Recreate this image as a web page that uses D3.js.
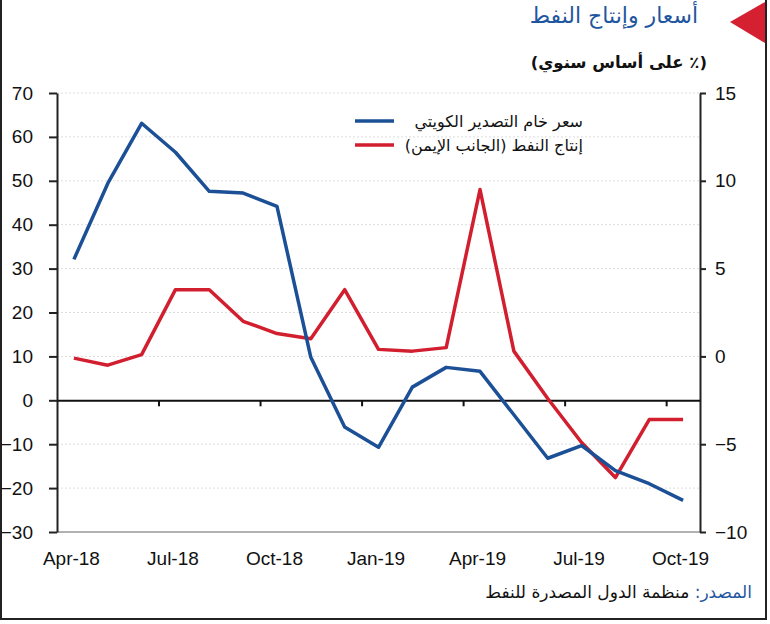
<!DOCTYPE html>
<html>
<head>
<meta charset="utf-8">
<script src="https://cdn.jsdelivr.net/npm/d3@7/dist/d3.min.js"></script>
<style>
  body { margin: 0; background: #fff; }
  text { font-family: "Liberation Sans", Arial, "DejaVu Sans", sans-serif; }
  .ar { font-family: "DejaVu Sans", sans-serif; }
</style>
</head>
<body>
<svg id="chart" width="770" height="624"></svg>
<script>
// monthly data, Apr-18 .. Oct-19
var months = ["Apr-18","May-18","Jun-18","Jul-18","Aug-18","Sep-18","Oct-18","Nov-18","Dec-18",
  "Jan-19","Feb-19","Mar-19","Apr-19","May-19","Jun-19","Jul-19","Aug-19","Sep-19","Oct-19"];
var kuwaitPrice = [32.1, 49.4, 63.1, 56.5, 47.6, 47.2, 44.2, 9.8, -6.1, -10.7, 3.0, 7.5, 6.6, -3.3, -13.2, -10.3, -16.0, -19.0, -22.8];
var oilProduction = [-0.1, -0.5, 0.1, 3.8, 3.8, 2.0, 1.3, 1.0, 3.8, 0.4, 0.3, 0.5, 9.5, 0.3, -2.4, -4.9, -6.9, -3.6, -3.6];

var leftTicks = [-30, -20, -10, 0, 10, 20, 30, 40, 50, 60, 70];
var rightTicks = [-10, -5, 0, 5, 10, 15];
var xLabels = ["Apr-18", "Jul-18", "Oct-18", "Jan-19", "Apr-19", "Jul-19", "Oct-19"];
var xTickIdx = [3, 6, 9, 12, 15, 18];

var seriesNames = ["سعر خام التصدير الكويتي", "إنتاج النفط (الجانب الإيمن)"];
var blue = "#1c5096", red = "#d21f2f";

var svg = d3.select("#chart");
var plotL = 57, plotR = 700, plotT = 93, plotB = 532;

var x = d3.scalePoint().domain(months).range([plotL, plotR]).padding(0.5);
var xIdx = d3.scaleLinear().domain([0, months.length]).range([plotL, plotR]);
var yL = d3.scaleLinear().domain([-30, 70]).range([plotB, plotT]);
var yR = d3.scaleLinear().domain([-10, 15]).range([plotB, plotT]);

// frame
svg.append("path").attr("d", "M1,0V619H766V0").attr("fill", "none").attr("stroke", "#222").attr("stroke-width", 2);

// title & triangle
svg.append("polygon").attr("points", "730,22 765,2 765,43").attr("fill", "#d42030");
svg.append("text").attr("class", "ar").attr("x", 698).attr("y", 23).attr("text-anchor", "start")
  .attr("font-size", 22).attr("fill", "#1f56a0").attr("direction", "rtl").text("أسعار وإنتاج النفط");
svg.append("text").attr("class", "ar").attr("x", 707).attr("y", 68).attr("text-anchor", "start")
  .attr("font-size", 16.5).attr("font-weight", "bold").attr("fill", "#111").attr("direction", "rtl").text("(٪ على أساس سنوي)");

// gridlines
svg.append("g").selectAll("line").data(leftTicks.filter(function(d) { return d != 0 && d != -30; }))
  .enter().append("line")
  .attr("x1", plotL).attr("x2", plotR)
  .attr("y1", function(d) { return yL(d); }).attr("y2", function(d) { return yL(d); })
  .attr("stroke", "#ddd").attr("stroke-dasharray", "2,2");
svg.append("line").attr("x1", plotL).attr("x2", plotR).attr("y1", plotB).attr("y2", plotB)
  .attr("stroke", "#999").attr("stroke-width", 1.5);

// left axis
var gl = svg.append("g").attr("transform", "translate(" + plotL + ",0)")
  .call(d3.axisLeft(yL).tickValues(leftTicks).tickSize(8).tickPadding(16).tickSizeOuter(0));
// right axis
var gr = svg.append("g").attr("transform", "translate(" + plotR + ",0)")
  .call(d3.axisRight(yR).tickValues(rightTicks).tickSize(6).tickPadding(9).tickSizeOuter(0));
[gl, gr].forEach(function(g) {
  g.select(".domain").attr("stroke", "#222").attr("stroke-width", 2);
  g.selectAll(".tick line").attr("stroke", "#222").attr("stroke-width", 2);
  g.selectAll(".tick text").attr("font-size", 19).attr("fill", "#111");
});

// zero line with ticks
var gz = svg.append("g").attr("transform", "translate(0," + yL(0) + ")")
  .call(d3.axisBottom(xIdx).tickValues(xTickIdx).tickSize(6).tickFormat("").tickSizeOuter(0));
gz.select(".domain").attr("stroke", "#111").attr("stroke-width", 2);
gz.selectAll(".tick line").attr("stroke", "#111").attr("stroke-width", 2);

// x labels
var gx = svg.append("g").attr("transform", "translate(0," + plotB + ")")
  .call(d3.axisBottom(x).tickValues(xLabels).tickSize(0).tickPadding(20));
gx.select(".domain").remove();
gx.selectAll(".tick text").attr("font-size", 19).attr("fill", "#111").attr("dx", -3);

// lines
var lineL = d3.line().x(function(d, i) { return x(months[i]); }).y(function(d) { return yL(d); });
var lineR = d3.line().x(function(d, i) { return x(months[i]); }).y(function(d) { return yR(d); });
svg.append("path").datum(oilProduction).attr("d", lineR)
  .attr("fill", "none").attr("stroke", red).attr("stroke-width", 3.5).attr("stroke-linejoin", "round");
svg.append("path").datum(kuwaitPrice).attr("d", lineL)
  .attr("fill", "none").attr("stroke", blue).attr("stroke-width", 3.5).attr("stroke-linejoin", "round");

// legend
var legend = svg.append("g");
[blue, red].forEach(function(c, i) {
  var ly = 121 + i * 24;
  legend.append("line").attr("x1", 355).attr("x2", 394).attr("y1", ly).attr("y2", ly)
    .attr("stroke", c).attr("stroke-width", 3.5);
  legend.append("text").attr("class", "ar").attr("x", 583).attr("y", ly + 6).attr("text-anchor", "start")
    .attr("direction", "rtl").attr("font-size", 16).attr("fill", "#111").text(seriesNames[i]);
});

// source
var src = svg.append("text").attr("class", "ar").attr("x", 752).attr("y", 598).attr("text-anchor", "start")
  .attr("direction", "rtl").attr("font-size", 17);
src.append("tspan").attr("fill", "#1f56a0").text("المصدر: ");
src.append("tspan").attr("fill", "#111").text("منظمة الدول المصدرة للنفط");
</script>
</body>
</html>
